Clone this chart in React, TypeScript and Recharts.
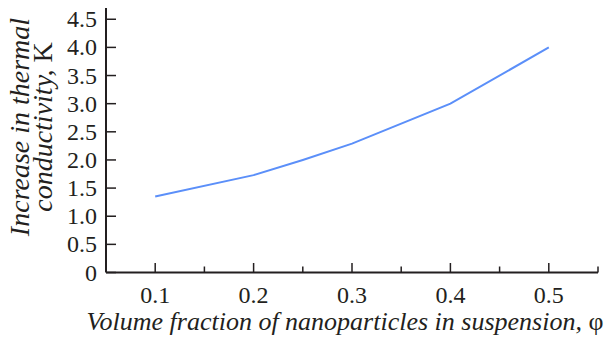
import React from "react";
import { LineChart, Line, XAxis, YAxis, Label } from "recharts";

const xValues = [0.1, 0.2, 0.25, 0.3, 0.4, 0.5];
const yValues = [1.35, 1.73, 2.0, 2.29, 3.0, 4.0];
const xMajorTicks = [0.1, 0.2, 0.3, 0.4, 0.5];
const xMinorTicks = [0.15, 0.25, 0.35, 0.45, 0.55];
const yTicks = [0, 0.5, 1.0, 1.5, 2.0, 2.5, 3.0, 3.5, 4.0, 4.5];
const xTitle = "Volume fraction of nanoparticles in suspension, ";
const xTitleSymbol = "φ";
const yTitleLine1 = "Increase in thermal";
const yTitleLine2 = "conductivity, ";
const yTitleUnit = "K";

const data = xValues.map((x, i) => ({ x, y: yValues[i] }));
const allXTicks = [...xMajorTicks, ...xMinorTicks].sort((a, b) => a - b);

const INK = "#231f20";
const FONT = "Liberation Serif";

const XTick = (props: any) => {
  const { x, y, payload } = props;
  const v = payload.value;
  const isMajor = xMajorTicks.some((t) => Math.abs(t - v) < 1e-9);
  return (
    <g>
      <line x1={x} x2={x} y1={y} y2={y - (isMajor ? 9.5 : 6)} stroke={INK} strokeWidth={1.5} />
      {isMajor && (
        <text x={x} y={y + 30} textAnchor="middle" fill={INK} fontSize={24} fontFamily={FONT}>
          {v.toFixed(1)}
        </text>
      )}
    </g>
  );
};

const YTick = (props: any) => {
  const { x, y, payload } = props;
  const v = payload.value;
  return (
    <g>
      <line x1={x} x2={x + 10} y1={y} y2={y} stroke={INK} strokeWidth={1.5} />
      <text x={x - 9} y={y + 8} textAnchor="end" fill={INK} fontSize={24} fontFamily={FONT}>
        {v === 0 ? "0" : v.toFixed(1)}
      </text>
    </g>
  );
};

const YTitle = () => (
  <text
    transform="translate(29,127) rotate(-90)"
    textAnchor="middle"
    fill={INK}
    fontSize={28}
    fontFamily={FONT}
  >
    <tspan x={0} y={0} fontStyle="italic">{yTitleLine1}</tspan>
    <tspan x={0} y={23}>
      <tspan fontStyle="italic">{yTitleLine2}</tspan>
      <tspan>{yTitleUnit}</tspan>
    </tspan>
  </text>
);

const XTitle = () => (
  <text x={345} y={330} textAnchor="middle" fill={INK} fontSize={26} fontFamily={FONT}>
    <tspan fontStyle="italic">{xTitle}</tspan>
    <tspan>{xTitleSymbol}</tspan>
  </text>
);

export default function App() {
  return (
    <div style={{ position: "absolute", left: 0, top: 0, width: 614, height: 342, background: "#fff" }}>
      <LineChart width={614} height={342} data={data} margin={{ top: 8, right: 16, bottom: 0, left: 0 }}>
        <XAxis
          dataKey="x"
          type="number"
          domain={[0.05, 0.55]}
          ticks={allXTicks}
          interval={0}
          height={69.5}
          tickSize={0}
          tickMargin={0}
          tickLine={false}
          tick={<XTick />}
          axisLine={{ stroke: INK, strokeWidth: 2 }}
        >
          <Label content={<XTitle />} />
        </XAxis>
        <YAxis
          type="number"
          domain={[0, 4.7]}
          ticks={yTicks}
          interval={0}
          width={106}
          tickSize={0}
          tickMargin={0}
          tickLine={false}
          tick={<YTick />}
          axisLine={{ stroke: INK, strokeWidth: 2 }}
        >
          <Label content={<YTitle />} />
        </YAxis>
        <Line
          type="linear"
          dataKey="y"
          stroke="#5b8ff9"
          strokeWidth={2}
          dot={false}
          isAnimationActive={false}
        />
      </LineChart>
    </div>
  );
}
